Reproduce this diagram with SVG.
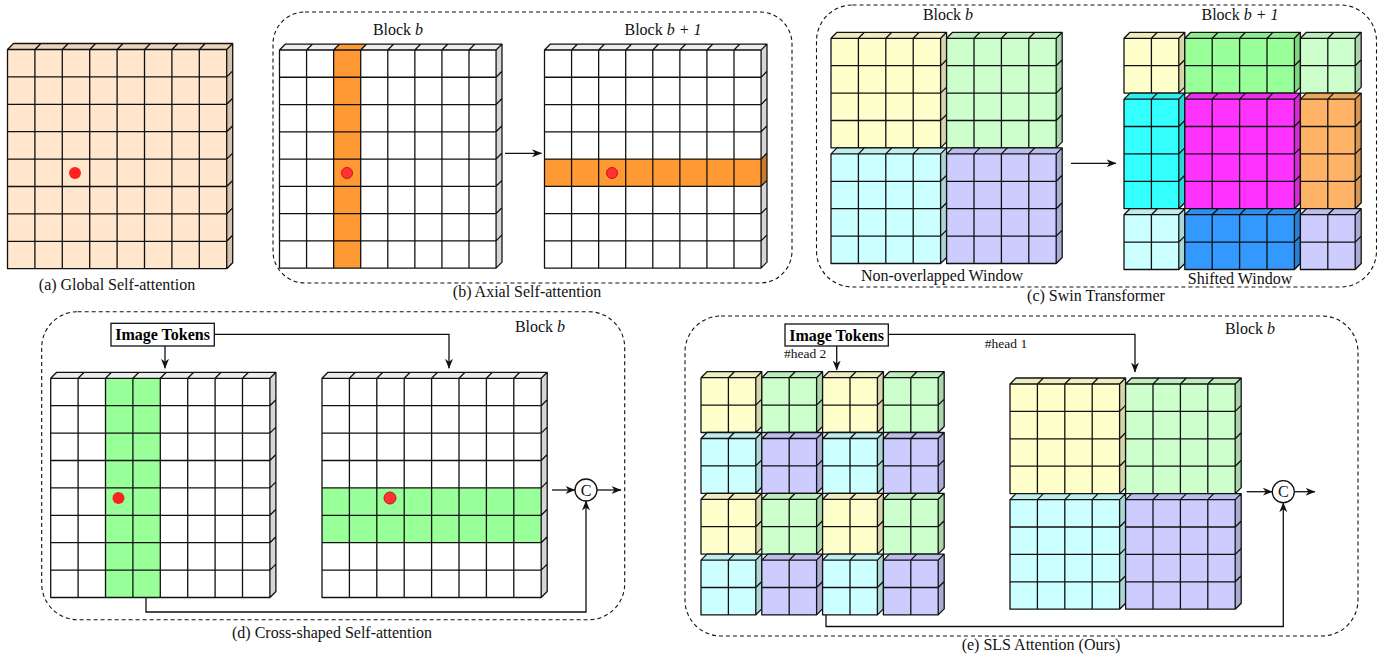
<svg xmlns="http://www.w3.org/2000/svg" width="1383" height="654" viewBox="0 0 1383 654">
<style>
.tp{fill:#000;fill-opacity:.07}
.sd{fill:#000;fill-opacity:.16}
.ln{fill:none;stroke:#111;stroke-width:1.3;stroke-linejoin:round}
.t{font-family:"Liberation Serif","Times New Roman",serif;font-size:16px;fill:#111}
.tb{font-family:"Liberation Serif","Times New Roman",serif;font-size:16px;font-weight:bold;fill:#000}
.ts{font-family:"Liberation Serif","Times New Roman",serif;font-size:13.5px;fill:#111}
.dash{fill:none;stroke:#111;stroke-width:1.1;stroke-dasharray:4 3}
.cn{fill:none;stroke:#111;stroke-width:1.3}
.dot{fill:#FF2020}
</style>
<defs>
<marker id="ah" viewBox="0 0 10 10" refX="9.5" refY="5" markerWidth="10" markerHeight="10" orient="auto" markerUnits="userSpaceOnUse"><path d="M0 1L10 5L0 9L3 5Z" fill="#111"/></marker>
<g id="F88"><path d="M0 0L6 -6H225.2V213.2L219.2 219.2H0Z"/><path class="tp" d="M0 0L6 -6H225.2L219.2 0Z"/><path class="sd" d="M219.2 0L225.2 -6V213.2L219.2 219.2Z"/></g>
<path id="L88" class="ln" d="M0 0H219.2V219.2H0Z M0 0L6 -6H225.2V213.2L219.2 219.2 M219.2 0L225.2 -6 M27.4 219.2V0l6 -6 M54.8 219.2V0l6 -6 M82.2 219.2V0l6 -6 M109.6 219.2V0l6 -6 M137 219.2V0l6 -6 M164.4 219.2V0l6 -6 M191.8 219.2V0l6 -6 M0 27.4H219.2l6 -6 M0 54.8H219.2l6 -6 M0 82.2H219.2l6 -6 M0 109.6H219.2l6 -6 M0 137H219.2l6 -6 M0 164.4H219.2l6 -6 M0 191.8H219.2l6 -6"/>
<g id="B88"><use href="#F88"/><use href="#L88"/></g>
<g id="F44"><path d="M0 0L6 -6H115.6V103.6L109.6 109.6H0Z"/><path class="tp" d="M0 0L6 -6H115.6L109.6 0Z"/><path class="sd" d="M109.6 0L115.6 -6V103.6L109.6 109.6Z"/></g>
<path id="L44" class="ln" d="M0 0H109.6V109.6H0Z M0 0L6 -6H115.6V103.6L109.6 109.6 M109.6 0L115.6 -6 M27.4 109.6V0l6 -6 M54.8 109.6V0l6 -6 M82.2 109.6V0l6 -6 M0 27.4H109.6l6 -6 M0 54.8H109.6l6 -6 M0 82.2H109.6l6 -6"/>
<g id="B44"><use href="#F44"/><use href="#L44"/></g>
<g id="F22"><path d="M0 0L6 -6H60.8V48.8L54.8 54.8H0Z"/><path class="tp" d="M0 0L6 -6H60.8L54.8 0Z"/><path class="sd" d="M54.8 0L60.8 -6V48.8L54.8 54.8Z"/></g>
<path id="L22" class="ln" d="M0 0H54.8V54.8H0Z M0 0L6 -6H60.8V48.8L54.8 54.8 M54.8 0L60.8 -6 M27.4 54.8V0l6 -6 M0 27.4H54.8l6 -6"/>
<g id="B22"><use href="#F22"/><use href="#L22"/></g>
<g id="F24"><path d="M0 0L6 -6H60.8V103.6L54.8 109.6H0Z"/><path class="tp" d="M0 0L6 -6H60.8L54.8 0Z"/><path class="sd" d="M54.8 0L60.8 -6V103.6L54.8 109.6Z"/></g>
<path id="L24" class="ln" d="M0 0H54.8V109.6H0Z M0 0L6 -6H60.8V103.6L54.8 109.6 M54.8 0L60.8 -6 M27.4 109.6V0l6 -6 M0 27.4H54.8l6 -6 M0 54.8H54.8l6 -6 M0 82.2H54.8l6 -6"/>
<g id="B24"><use href="#F24"/><use href="#L24"/></g>
<g id="F42"><path d="M0 0L6 -6H115.6V48.8L109.6 54.8H0Z"/><path class="tp" d="M0 0L6 -6H115.6L109.6 0Z"/><path class="sd" d="M109.6 0L115.6 -6V48.8L109.6 54.8Z"/></g>
<path id="L42" class="ln" d="M0 0H109.6V54.8H0Z M0 0L6 -6H115.6V48.8L109.6 54.8 M109.6 0L115.6 -6 M27.4 54.8V0l6 -6 M54.8 54.8V0l6 -6 M82.2 54.8V0l6 -6 M0 27.4H109.6l6 -6"/>
<g id="B42"><use href="#F42"/><use href="#L42"/></g>
</defs>
<rect width="1383" height="654" fill="#fff"/>

<!-- (a) -->
<g id="panel-a">
<use href="#B88" x="7.5" y="49.5" fill="#FFE6CC"/>
<circle class="dot" cx="75" cy="173" r="6"/>
<text class="t" x="117" y="290" text-anchor="middle">(a) Global Self-attention</text>
</g>

<!-- (b) -->
<g id="panel-b">
<rect class="dash" x="273" y="12" width="519" height="271" rx="32"/>
<g id="b-grid1" transform="translate(279.5 50) scale(0.988 0.995)">
<use href="#F88" fill="#fff"/>
<rect x="54.8" y="0" width="27.4" height="219.2" fill="#FF9933"/>
<path d="M54.8 0L60.8 -6H88.2L82.2 0Z" fill="#FF9933"/>
<use href="#L88"/>
</g>
<circle cx="347" cy="173" r="5.5" fill="#FF3333" stroke="#D01010" stroke-width="1"/>
<g id="b-grid2" transform="translate(544.5 50) scale(0.988 0.995)">
<use href="#F88" fill="#fff"/>
<rect x="0" y="109.6" width="219.2" height="27.4" fill="#FF9933"/>
<path d="M219.2 109.6L225.2 103.6V131L219.2 137Z" fill="#CC7A29"/>
<use href="#L88"/>
</g>
<circle cx="612" cy="173" r="5.5" fill="#FF3333" stroke="#D01010" stroke-width="1"/>
<text class="t" x="398" y="35" text-anchor="middle">Block <tspan font-style="italic">b</tspan></text>
<text class="t" x="663" y="35" text-anchor="middle">Block <tspan font-style="italic">b + 1</tspan></text>
<text class="t" x="527" y="297" text-anchor="middle">(b) Axial Self-attention</text>
</g>

<!-- (c) -->
<g id="panel-c">
<rect class="dash" x="816.5" y="5" width="560" height="282" rx="36"/>
<g id="c-left">
<use href="#B44" x="831" y="38.3" fill="#FFFFCC"/>
<use href="#B44" x="946.6" y="38.3" fill="#CCFFCC"/>
<use href="#B44" x="831" y="153.9" fill="#CCFFFF"/>
<use href="#B44" x="946.6" y="153.9" fill="#CCCCFF"/>
</g>
<g id="c-right">
<use href="#B22" x="1124" y="38.3" fill="#FFFFCC"/>
<use href="#B42" x="1184.8" y="38.3" fill="#99FF99"/>
<use href="#B22" x="1300.4" y="38.3" fill="#CCFFCC"/>
<use href="#B24" x="1124" y="99.1" fill="#33FFFF"/>
<use href="#B44" x="1184.8" y="99.1" fill="#FF33FF"/>
<use href="#B24" x="1300.4" y="99.1" fill="#FFB366"/>
<use href="#B22" x="1124" y="214.7" fill="#CCFFFF"/>
<use href="#B42" x="1184.8" y="214.7" fill="#3399FF"/>
<use href="#B22" x="1300.4" y="214.7" fill="#CCCCFF"/>
</g>
<text class="t" x="948" y="20" text-anchor="middle">Block <tspan font-style="italic">b</tspan></text>
<text class="t" x="1240" y="20" text-anchor="middle">Block <tspan font-style="italic">b + 1</tspan></text>
<text class="t" x="942" y="281" text-anchor="middle">Non-overlapped Window</text>
<text class="t" x="1240" y="284" text-anchor="middle">Shifted Window</text>
<text class="t" x="1096" y="301" text-anchor="middle">(c) Swin Transformer</text>
</g>

<!-- (d) -->
<g id="panel-d">
<rect class="dash" x="41.7" y="311.7" width="583" height="308" rx="36"/>
<g id="d-grid1" transform="translate(50.7 378.3)">
<use href="#F88" fill="#fff"/>
<rect x="54.8" y="0" width="54.8" height="219.2" fill="#99FF99"/>
<use href="#L88"/>
</g>
<circle class="dot" cx="118.5" cy="498" r="6"/>
<g id="d-grid2" transform="translate(322 378.3)">
<use href="#F88" fill="#fff"/>
<rect x="0" y="109.6" width="219.2" height="54.8" fill="#99FF99"/>
<use href="#L88"/>
</g>
<circle cx="390" cy="498" r="6" fill="#FF3333" stroke="#D01010" stroke-width="1"/>
<g id="d-tokens">
<rect x="111" y="323.3" width="103.3" height="22.7" fill="#fff" stroke="#111" stroke-width="1.3"/>
<text class="tb" x="162.6" y="340" text-anchor="middle">Image Tokens</text>
</g>
<g id="d-concat">
<circle cx="586" cy="490" r="11" fill="#fff" stroke="#111" stroke-width="1.3"/>
<text class="t" x="586" y="495.5" text-anchor="middle">C</text>
</g>
<text class="t" x="540" y="332" text-anchor="middle">Block <tspan font-style="italic">b</tspan></text>
<text class="t" x="332" y="638" text-anchor="middle">(d) Cross-shaped Self-attention</text>
</g>

<!-- (e) -->
<g id="panel-e">
<rect class="dash" x="685" y="316" width="673" height="320" rx="36"/>
<g id="e-small">
<use href="#B22" x="701" y="377.7" fill="#FFFFCC"/>
<use href="#B22" x="761.8" y="377.7" fill="#CCFFCC"/>
<use href="#B22" x="822.6" y="377.7" fill="#FFFFCC"/>
<use href="#B22" x="883.4" y="377.7" fill="#CCFFCC"/>
<use href="#B22" x="701" y="438.5" fill="#CCFFFF"/>
<use href="#B22" x="761.8" y="438.5" fill="#CCCCFF"/>
<use href="#B22" x="822.6" y="438.5" fill="#CCFFFF"/>
<use href="#B22" x="883.4" y="438.5" fill="#CCCCFF"/>
<use href="#B22" x="701" y="499.3" fill="#FFFFCC"/>
<use href="#B22" x="761.8" y="499.3" fill="#CCFFCC"/>
<use href="#B22" x="822.6" y="499.3" fill="#FFFFCC"/>
<use href="#B22" x="883.4" y="499.3" fill="#CCFFCC"/>
<use href="#B22" x="701" y="560.1" fill="#CCFFFF"/>
<use href="#B22" x="761.8" y="560.1" fill="#CCCCFF"/>
<use href="#B22" x="822.6" y="560.1" fill="#CCFFFF"/>
<use href="#B22" x="883.4" y="560.1" fill="#CCCCFF"/>
</g>
<g id="e-big">
<use href="#B44" x="1010" y="384" fill="#FFFFCC"/>
<use href="#B44" x="1125.6" y="384" fill="#CCFFCC"/>
<use href="#B44" x="1010" y="499.6" fill="#CCFFFF"/>
<use href="#B44" x="1125.6" y="499.6" fill="#CCCCFF"/>
</g>
<g id="e-tokens">
<rect x="785" y="324" width="103.3" height="22" fill="#fff" stroke="#111" stroke-width="1.3"/>
<text class="tb" x="836.6" y="340.5" text-anchor="middle">Image Tokens</text>
</g>
<g id="e-concat">
<circle cx="1283.3" cy="491.7" r="11" fill="#fff" stroke="#111" stroke-width="1.3"/>
<text class="t" x="1283.3" y="497.2" text-anchor="middle">C</text>
</g>
<text class="ts" x="784" y="358">#head 2</text>
<text class="ts" x="1006" y="348" text-anchor="middle">#head 1</text>
<text class="t" x="1250" y="334" text-anchor="middle">Block <tspan font-style="italic">b</tspan></text>
<text class="t" x="1041" y="650" text-anchor="middle">(e) SLS Attention (Ours)</text>
</g>

<!-- connectors -->
<g id="connectors">
<path class="cn" d="M505 153.3H541.5" marker-end="url(#ah)"/>
<path class="cn" d="M1071 163.3H1116" marker-end="url(#ah)"/>
<path class="cn" d="M165 346V368.3" marker-end="url(#ah)"/>
<path class="cn" d="M214.3 334.3H449V368.3" marker-end="url(#ah)"/>
<path class="cn" d="M552 490H575" marker-end="url(#ah)"/>
<path class="cn" d="M597 490H621" marker-end="url(#ah)"/>
<path class="cn" d="M146 597.5V612H586V501" marker-end="url(#ah)"/>
<path class="cn" d="M836.7 346V370" marker-end="url(#ah)"/>
<path class="cn" d="M888.3 334.3H1135V372" marker-end="url(#ah)"/>
<path class="cn" d="M1246.7 491.7H1272.3" marker-end="url(#ah)"/>
<path class="cn" d="M1294.3 491.7H1315" marker-end="url(#ah)"/>
<path class="cn" d="M826 615V626.5H1283.3V502.7" marker-end="url(#ah)"/>
</g>
</svg>
